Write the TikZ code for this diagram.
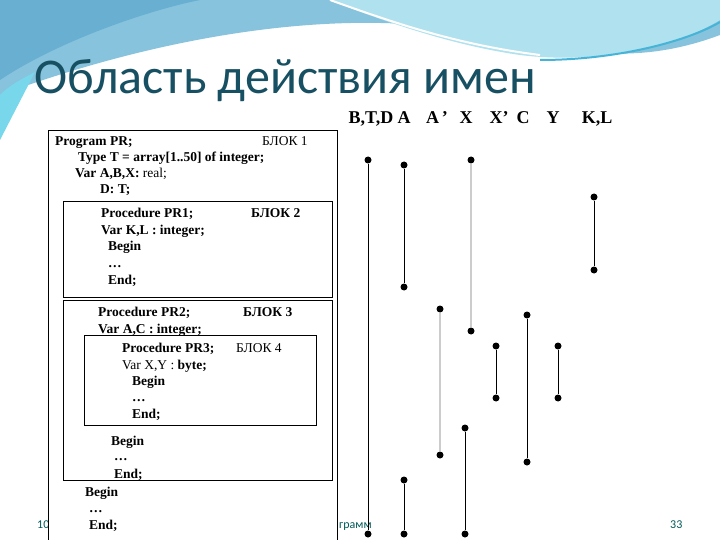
\documentclass[tikz,border=0pt]{standalone}
\usepackage{fontspec}
\setmainfont{Liberation Serif}
\newfontfamily\titlefont{Carlito}
\definecolor{waveA}{RGB}{135,195,220}
\definecolor{waveB}{RGB}{175,225,238}
\definecolor{waveC}{RGB}{105,175,210}
\definecolor{waveD}{RGB}{70,180,215}
\definecolor{waveE}{RGB}{120,215,235}
\begin{document}
\begin{tikzpicture}[x=1pt,y=-1pt,
  code/.style={anchor=base west,font=\bfseries\fontsize{13.5}{15}\selectfont,inner sep=0pt},
  hdr/.style={anchor=base,font=\bfseries\fontsize{18}{20}\selectfont,inner sep=0pt},
  dot/.style={circle,fill=black,inner sep=0pt,minimum size=7pt},
  life/.style={line width=1pt,black},
  gl/.style={line width=1.5pt,black!20},
  blk/.style={draw=black,line width=0.8pt},
  foot/.style={font=\titlefont\fontsize{12}{14}\selectfont,text=teal!70!black,anchor=base west,inner sep=0pt}]
\useasboundingbox (0,0) rectangle (720,540);
\fill[white] (0,0) rectangle (720,540);
% background waves
\fill[waveA] (0,0) -- (720,0) -- (720,35) .. controls (600,80) and (520,30) .. (420,25)
  .. controls (300,15) and (150,40) .. (0,95) -- cycle;
\fill[waveB] (330,0) -- (720,0) -- (720,20) .. controls (680,45) and (600,65) .. (520,55) .. controls (450,45) and (380,20) .. (330,0) -- cycle;
\fill[waveC] (0,0) -- (200,0) .. controls (150,10) and (60,40) .. (0,80) -- cycle;
\draw[white,line width=2pt] (330,0) .. controls (400,25) and (460,45) .. (540,55);
\draw[waveD,line width=2pt] (540,60) .. controls (620,60) and (690,40) .. (720,22);
\fill[waveE] (0,95) .. controls (10,85) and (20,80) .. (35,72) -- (0,140) -- cycle;
% title
\node[anchor=base west,inner sep=0pt,font=\titlefont\fontsize{50}{54}\selectfont,text={rgb,255:red,23;green,80;blue,98}] (title) at (34,94) {Область действия имен};
% footer
\node[foot] (f1) at (37,528) {10};
\node[foot] (f2) at (339,528) {грамм};
\node[foot] (f3) at (670,528) {33};
% white panels
\fill[white] (48,130) rectangle (337,540);
\fill[white] (343,104) rectangle (625,130);
% code boxes
\draw[blk] (48,540) -- (48,130) -- (337,130) -- (337,540);
\draw[blk] (63,201) rectangle (332,297);
\draw[blk] (63,300) rectangle (332,480);
\draw[blk,line width=0.6pt] (84,335) rectangle (316,425);
% code text
\node[code] (c1) at (55,146) {Program PR;};
\node[code] (b1) at (262,146) {\mdseries БЛОК 1};
\node[code] (c2) at (78,162) {Type T = array[1..50] of integer;};
\node[code] (c3) at (75,178) {Var A,B,X: \mdseries real;};
\node[code] (c4) at (100,194) {D: T;};
\node[code] (c5) at (101,218) {Procedure PR1;};
\node[code] (b2) at (251,218) {БЛОК 2};
\node[code] (c6) at (101,235) {Var K,L : integer;};
\node[code] (c7) at (108,251) {Begin};
\node[code] (c8) at (108,267) {\dots};
\node[code] (c9) at (108,284) {End;};
\node[code] (c10) at (98,316) {Procedure PR2;};
\node[code] (b3) at (243,316) {БЛОК 3};
\node[code] (c11) at (98,333) {Var A,C : integer;};
\node[code] (c12) at (122,352) {Procedure PR3;};
\node[code] (b4) at (236,352) {\mdseries БЛОК 4};
\node[code] (c13) at (122,369) {\mdseries Var X,Y : \bfseries byte;};
\node[code] (c14) at (132,385) {Begin};
\node[code] (c15) at (132,401) {\dots};
\node[code] (c16) at (132,418) {End;};
\node[code] (c17) at (111,445) {Begin};
\node[code] (c18) at (114,460) {\dots};
\node[code] (c19) at (114,478) {End;};
\node[code] (c20) at (85,496) {Begin};
\node[code] (c21) at (89,512) {\dots};
\node[code] (c22) at (89,529) {End;};
% headers
\node[hdr] (h1) at (371,124) {B,T,D};
\node[hdr] (h2) at (404,124) {A};
\node[hdr] (h3) at (437,124) {A\,’};
\node[hdr] (h4) at (466,124) {X};
\node[hdr] (h5) at (499,124) {X’};
\node[hdr] (h6) at (523,124) {C};
\node[hdr] (h7) at (553,124) {Y};
\node[hdr] (h8) at (597,124) {K,L};
% lifelines
\node[dot] (p1a) at (368,160) {}; \node[dot] (p1b) at (368,534) {};
\node[dot] (p2a) at (404,165) {}; \node[dot] (p2b) at (404,287) {};
\node[dot] (p3a) at (404,480) {}; \node[dot] (p3b) at (404,534) {};
\node[dot] (p4a) at (440,309) {}; \node[dot] (p4b) at (440,455) {};
\node[dot] (p5a) at (471,160) {}; \node[dot] (p5b) at (471,331) {};
\node[dot] (p6a) at (465,428) {}; \node[dot] (p6b) at (465,534) {};
\node[dot] (p7a) at (496,346) {}; \node[dot] (p7b) at (496,398) {};
\node[dot] (p8a) at (527,315) {}; \node[dot] (p8b) at (527,462) {};
\node[dot] (p9a) at (558,346) {}; \node[dot] (p9b) at (558,398) {};
\node[dot] (p10a) at (594,197) {}; \node[dot] (p10b) at (594,270) {};
\draw[life] (p1a) -- (p1b);
\draw[life] (p2a) -- (p2b);
\draw[life] (p3a) -- (p3b);
\draw[gl] (p4a) -- (p4b);
\draw[gl] (p5a) -- (p5b);
\draw[life] (p6a) -- (p6b);
\draw[life] (p7a) -- (p7b);
\draw[life] (p8a) -- (p8b);
\draw[life] (p9a) -- (p9b);
\draw[life] (p10a) -- (p10b);
\end{tikzpicture}
\end{document}
